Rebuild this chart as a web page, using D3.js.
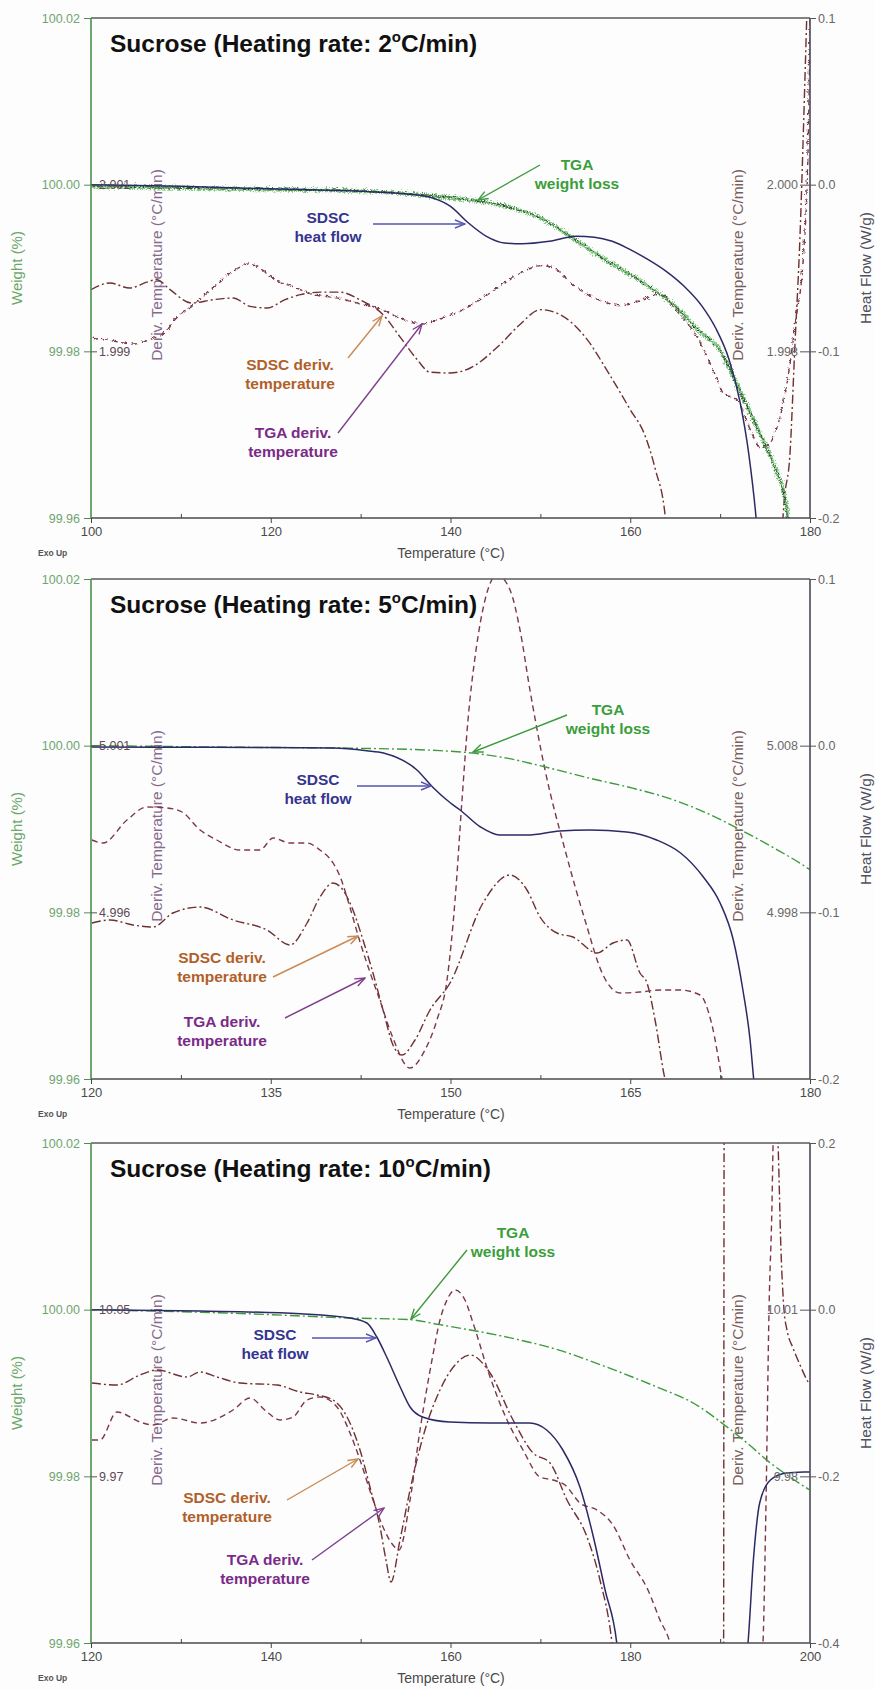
<!DOCTYPE html>
<html>
<head>
<meta charset="utf-8">
<script src="https://cdn.jsdelivr.net/npm/d3@7"></script>
<style>
  body { margin: 0; background: #ffffff; }
  svg { display: block; font-family: "Liberation Sans", Arial, sans-serif; }
</style>
</head>
<body>
<svg id="chart" width="875" height="1690"></svg>
<script>
// ---------- Shared axis values ----------
const weightDomain = [99.96, 100.02];
const weightTicks = [99.96, 99.98, 100.00, 100.02];

// ---------- Heating rate 2 °C/min ----------
const temp2Ticks = [100, 120, 140, 160, 180];
const temp2Minor = [110, 130, 150, 170];
const heatFlow2Ticks = [-0.2, -0.1, 0.0, 0.1];
const tgaDeriv2Ticks = [1.999, 2.001];
const sdscDeriv2Ticks = [1.998, 2.000];
// [temperature °C, heat flow W/g]
const heatFlow2 = [[100,0.000],[110,-0.001],[120,-0.0025],[130,-0.004],[136,-0.006],[138,-0.008],[140,-0.013],[142,-0.023],[144,-0.031],[146,-0.035],[148,-0.0355],[151,-0.034],[154,-0.031],[156,-0.0315],[158,-0.034],[160,-0.039],[162,-0.045],[164,-0.052],[166,-0.061],[168,-0.073],[169.5,-0.086],[171,-0.105],[172.2,-0.130],[173.2,-0.162],[174,-0.200],[174.3,-0.22]];
// [temperature °C, weight %]
const weight2 = [[100,100.0000],[115,99.9997],[130,99.9994],[138,99.9988],[143,99.9982],[147,99.9973],[150,99.9961],[153.4,99.9938],[157,99.9912],[161,99.9886],[164.8,99.9856],[167.5,99.9826],[169.7,99.9805],[172.3,99.9748],[174.5,99.9697],[176,99.9661],[177.2,99.9616],[177.4,99.9600],[177.6,99.958]];
// [temperature °C, deriv. temperature °C/min]
const tgaDeriv2 = [[100.0,1.99917],[102.1,1.99914],[104.7,1.99910],[106.6,1.99916],[108.0,1.99922],[109.3,1.99940],[111.2,1.99956],[113.8,1.99980],[115.8,1.99998],[117.5,2.00006],[118.8,2.00000],[120.5,1.99986],[122.1,1.99980],[124.4,1.99970],[127.4,1.99965],[129.9,1.99958],[132.5,1.99950],[134.4,1.99940],[136.9,1.99934],[138.8,1.99940],[141.1,1.99950],[143.3,1.99964],[145.5,1.99980],[147.7,1.99995],[150.0,2.00004],[151.6,2.00000],[153.3,1.99983],[156.6,1.99962],[158.9,1.99956],[161.1,1.99962],[163.3,1.99970],[164.8,1.99953],[167.4,1.99917],[169.4,1.99872],[170.3,1.99850],[171.7,1.99844],[173.3,1.99806],[174.4,1.99785],[175.2,1.99788],[176.1,1.99806],[177.2,1.99854],[178.3,1.99938],[179.2,2.00022],[179.67,2.00142],[179.9,2.00300],[180,2.00400]];
const sdscDeriv2 = [[100.0,1.99874],[102.1,1.99882],[104.3,1.99876],[106.2,1.99883],[107.3,1.99886],[108.8,1.99874],[111.2,1.99858],[113.6,1.99862],[115.8,1.99864],[117.7,1.99854],[119.6,1.99852],[121.6,1.99862],[123.3,1.99868],[125.5,1.99871],[127.7,1.99871],[129.9,1.99862],[132.5,1.99844],[134.4,1.99817],[136.3,1.99790],[137.7,1.99775],[139.9,1.99774],[142.2,1.99780],[145.5,1.99808],[147.7,1.99832],[150.0,1.99850],[152.2,1.99844],[155.0,1.99817],[157.7,1.99772],[160.0,1.99730],[161.6,1.99700],[162.8,1.99658],[163.9,1.99601],[164.3,1.99550],[176.8,1.99550],[177.0,1.99601],[177.8,1.99682],[178.3,1.99802],[178.9,1.99942],[179.5,2.00150],[179.7,2.00222],[180,2.00300]];

// ---------- Heating rate 5 °C/min ----------
const temp5Ticks = [120, 135, 150, 165, 180];
const temp5Minor = [127.5, 142.5, 157.5, 172.5];
const heatFlow5Ticks = [-0.2, -0.1, 0.0, 0.1];
const tgaDeriv5Ticks = [4.996, 5.001];
const sdscDeriv5Ticks = [4.998, 5.008];
const heatFlow5 = [[120,-0.0008],[130,-0.0010],[140.2,-0.0014],[143,-0.0030],[144.4,-0.0044],[147.2,-0.0146],[148.5,-0.0248],[150.0,-0.0344],[150.8,-0.0386],[152.5,-0.0488],[154.1,-0.0536],[156.4,-0.0536],[159.1,-0.0512],[161.6,-0.0506],[164.7,-0.0518],[167.2,-0.0566],[169.2,-0.0644],[171.1,-0.0788],[172.5,-0.0944],[173.6,-0.1166],[174.4,-0.1466],[175.0,-0.1766],[175.3,-0.2000],[175.5,-0.215]];
const weight5 = [[120,100.0000],[133.3,99.9998],[141.6,99.9997],[149.1,99.9994],[151.9,99.9991],[154.7,99.9985],[158.3,99.9973],[161.6,99.9961],[165.2,99.9949],[168.6,99.9935],[171.4,99.9919],[174.2,99.9899],[176.9,99.9878],[179.8,99.9853],[180,99.9851]];
const tgaDeriv5 = [[120.08,4.99817],[121.0,4.99808],[123.0,4.99877],[124.67,4.99916],[126.34,4.99913],[127.59,4.99901],[129.1,4.99847],[130.5,4.99817],[132.4,4.99787],[134.1,4.99787],[135.2,4.99823],[136.6,4.99808],[138.0,4.99808],[139.1,4.99787],[140.2,4.99748],[140.8,4.99706],[141.6,4.99616],[142.4,4.99517],[143.3,4.99418],[144.1,4.99337],[145.1,4.99232],[146.62,4.99133],[147.87,4.99187],[148.87,4.99277],[149.71,4.99397],[150.38,4.99637],[150.96,4.99937],[151.46,5.00177],[152.13,5.00387],[152.88,5.00537],[153.88,5.00612],[154.97,5.00567],[155.80,5.00447],[156.63,5.00267],[157.89,5.00027],[159.56,4.99787],[161.22,4.99577],[162.73,4.99412],[164.14,4.99358],[165.81,4.99361],[167.48,4.99367],[169.15,4.99367],[170.82,4.99352],[171.82,4.99262],[172.66,4.99100],[173.2,4.99000]];
const sdscDeriv5 = [[120.08,4.99736],[121.59,4.99754],[123.50,4.99724],[125.17,4.99712],[126.84,4.99796],[129.10,4.99832],[131.85,4.99754],[134.69,4.99694],[136.61,4.99604],[138.03,4.99736],[139.11,4.99892],[140.19,4.99976],[141.03,4.99934],[141.86,4.99814],[142.70,4.99634],[143.53,4.99436],[144.37,4.99214],[145.20,4.99004],[145.95,4.98944],[147.04,4.99034],[148.29,4.99214],[149.96,4.99376],[152.71,4.99856],[154.97,5.00024],[156.38,4.99934],[157.47,4.99772],[158.89,4.99676],[160.22,4.99652],[162.23,4.99556],[163.56,4.99616],[164.73,4.99634],[165.81,4.99436],[166.40,4.99376],[167.07,4.99154],[167.90,4.98800],[168.3,4.98700]];

// ---------- Heating rate 10 °C/min ----------
const temp10Ticks = [120, 140, 160, 180, 200];
const temp10Minor = [130, 150, 170, 190];
const heatFlow10Ticks = [-0.4, -0.2, 0.0, 0.2];
const tgaDeriv10Ticks = [9.97, 10.05];
const sdscDeriv10Ticks = [9.98, 10.01];
const heatFlow10 = [[120.1,0.0],[132.1,-0.0016],[143.3,-0.005],[148.8,-0.010],[150.7,-0.016],[151.8,-0.0328],[152.9,-0.0568],[154.4,-0.0928],[155.5,-0.1168],[156.9,-0.1288],[159.9,-0.1348],[164.4,-0.136],[168.8,-0.136],[170.7,-0.1444],[172.5,-0.1684],[174.4,-0.2128],[175.9,-0.2728],[177.2,-0.3364],[178.5,-0.4],[178.8,-0.43],[192.8,-0.43],[193.1,-0.4],[193.7,-0.3004],[194.4,-0.232],[195.6,-0.2044],[197.4,-0.196],[199.7,-0.1948],[200,-0.1947]];
const weight10 = [[120.1,100.0000],[137.7,99.9995],[148.8,99.9990],[155.5,99.9988],[158.8,99.9982],[166.3,99.9967],[171.9,99.9952],[177.4,99.9931],[183.0,99.9907],[187.0,99.9888],[190.8,99.9859],[193.0,99.9840],[195.6,99.9816],[197.8,99.9799],[199.9,99.9784]];
const tgaDeriv10 = [[120.11,9.98744],[121.0,9.98744],[122.89,10.00088],[125.45,9.99608],[126.90,9.99464],[129.12,9.99800],[132.13,9.99560],[135.80,10.00184],[137.69,10.00760],[139.58,10.00088],[141.03,9.99704],[142.48,9.99848],[144.03,10.00664],[145.48,10.00808],[147.37,10.00328],[148.82,9.99080],[149.93,9.97784],[151.38,9.95864],[152.49,9.94568],[153.60,9.93704],[154.27,9.93464],[155.50,9.95864],[156.61,9.99224],[157.94,10.02584],[158.83,10.04504],[159.61,10.05464],[160.50,10.05944],[161.61,10.05464],[162.51,10.04360],[164.40,10.01768],[166.29,9.99704],[168.07,9.98264],[169.96,9.96968],[171.41,9.96824],[172.74,9.96584],[174.41,9.95720],[176.30,9.95384],[178.08,9.94664],[179.97,9.92984],[181.97,9.91544],[183.31,9.90104],[184.43,9.89000],[184.98,9.88000],[194.6,9.88000],[194.77,9.89000],[195.11,9.95864],[195.44,10.04984],[195.78,10.10264],[195.89,10.13000],[196.0,10.15000]];
const sdscDeriv10 = [[120.11,9.99680],[122.89,9.99644],[125.45,9.99824],[127.34,9.99914],[130.68,9.99788],[132.13,9.99878],[134.02,9.99788],[136.58,9.99680],[140.70,9.99644],[143.26,9.99518],[145.15,9.99464],[146.93,9.99374],[148.49,9.99068],[149.93,9.98474],[151.04,9.97808],[152.16,9.97088],[152.82,9.96494],[153.38,9.96098],[154.38,9.96854],[155.50,9.97754],[157.16,9.98834],[158.83,9.99554],[160.50,10.00004],[162.17,10.00184],[164.40,9.99860],[166.96,9.99014],[169.18,9.98420],[171.07,9.98240],[172.96,9.97574],[175.19,9.96908],[176.63,9.96134],[177.97,9.95000],[178.3,9.94500],[190.38,9.94500],[190.45,10.04500],[196.3,10.04500],[196.44,10.04000],[196.77,10.02074],[197.11,10.00994],[197.44,10.00634],[198.11,10.00310],[198.89,10.00004],[199.89,9.99680],[200,9.99660]];

// ---------- Layout and styling ----------
const LEFT = 91, RIGHT = 810;
const COLORS = {
  heatFlow: "#2b2a66", weight: "#3d9a3d", tgaDeriv: "#7d3848", sdscDeriv: "#6e3030",
  weightText: "#3a9e3a", heatText: "#35358f", heatArrow: "#5555b0",
  sdscText: "#b0602a", sdscArrow: "#c98a55", tgaText: "#7a2a88", tgaArrow: "#80408e"
};

const panels = [
  { id: "r2", top: 18, bottom: 518, rate: "2",
    tempDomain: [100, 180], tempTicks: temp2Ticks, tempMinor: temp2Minor,
    hfDomain: [-0.2, 0.1], hfTicks: heatFlow2Ticks,
    tgaDerivDomain: [1.997, 2.003], tgaDerivTicks: tgaDeriv2Ticks, tgaFmt: ".3f",
    sdscDerivDomain: [1.996, 2.002], sdscDerivTicks: sdscDeriv2Ticks, sdscFmt: ".3f",
    heatFlow: heatFlow2, weight: weight2, tgaDeriv: tgaDeriv2, sdscDeriv: sdscDeriv2, noisy: true,
    notes: {
      weight: { x: 577, y: 152, arrow: [540, 147, 478, 182] },
      heat:   { x: 328, y: 205, arrow: [373, 206, 465, 206] },
      sdsc:   { x: 290, y: 352, arrow: [348, 340, 382, 298] },
      tga:    { x: 293, y: 420, arrow: [338, 415, 422, 306] }
    } },
  { id: "r5", top: 579, bottom: 1079, rate: "5",
    tempDomain: [120, 180], tempTicks: temp5Ticks, tempMinor: temp5Minor,
    hfDomain: [-0.2, 0.1], hfTicks: heatFlow5Ticks,
    tgaDerivDomain: [4.991, 5.006], tgaDerivTicks: tgaDeriv5Ticks, tgaFmt: ".3f",
    sdscDerivDomain: [4.988, 5.018], sdscDerivTicks: sdscDeriv5Ticks, sdscFmt: ".3f",
    heatFlow: heatFlow5, weight: weight5, tgaDeriv: tgaDeriv5, sdscDeriv: sdscDeriv5, noisy: false,
    notes: {
      weight: { x: 608, y: 136, arrow: [567, 136, 473, 173] },
      heat:   { x: 318, y: 206, arrow: [357, 207, 431, 207] },
      sdsc:   { x: 222, y: 384, arrow: [273, 398, 358, 357] },
      tga:    { x: 222, y: 448, arrow: [285, 439, 365, 399] }
    } },
  { id: "r10", top: 1143, bottom: 1643, rate: "10",
    tempDomain: [120, 200], tempTicks: temp10Ticks, tempMinor: temp10Minor,
    hfDomain: [-0.4, 0.2], hfTicks: heatFlow10Ticks,
    tgaDerivDomain: [9.89, 10.13], tgaDerivTicks: tgaDeriv10Ticks, tgaFmt: ".2f",
    sdscDerivDomain: [9.95, 10.04], sdscDerivTicks: sdscDeriv10Ticks, sdscFmt: ".2f",
    heatFlow: heatFlow10, weight: weight10, tgaDeriv: tgaDeriv10, sdscDeriv: sdscDeriv10, noisy: false,
    notes: {
      weight: { x: 513, y: 95, arrow: [467, 107, 411, 176] },
      heat:   { x: 275, y: 197, arrow: [312, 195, 376, 195] },
      sdsc:   { x: 227, y: 360, arrow: [287, 357, 358, 316] },
      tga:    { x: 265, y: 422, arrow: [312, 417, 384, 365] }
    } }
];

const svg = d3.select("#chart");
svg.append("rect").attr("width", 875).attr("height", 1690).attr("fill", "#fdfdfd");
const defs = svg.append("defs");

// open chevron arrowheads, one per annotation colour
function arrowMarker(id, color) {
  defs.append("marker").attr("id", id)
    .attr("viewBox", "0 0 12 10").attr("refX", 11).attr("refY", 5)
    .attr("markerWidth", 12).attr("markerHeight", 10)
    .attr("markerUnits", "userSpaceOnUse").attr("orient", "auto")
    .append("path").attr("d", "M1,1 L11,5 L1,9")
    .attr("fill", "none").attr("stroke", color).attr("stroke-width", 1.4);
}
arrowMarker("arW", COLORS.weight);
arrowMarker("arH", COLORS.heatArrow);
arrowMarker("arS", COLORS.sdscArrow);
arrowMarker("arT", COLORS.tgaArrow);

// ragged trace texture for the noisy slow-rate TGA signal
function jitter(id, seed, scale) {
  const f = defs.append("filter").attr("id", id)
    .attr("filterUnits", "userSpaceOnUse")
    .attr("x", 60).attr("y", 0).attr("width", 780).attr("height", 560);
  f.append("feTurbulence").attr("type", "turbulence")
    .attr("baseFrequency", "0.9 0.45").attr("numOctaves", 2).attr("seed", seed).attr("result", "n");
  f.append("feDisplacementMap").attr("in", "SourceGraphic").attr("in2", "n")
    .attr("scale", scale).attr("xChannelSelector", "R").attr("yChannelSelector", "G");
}
jitter("jitterA", 4, 7);
jitter("jitterB", 11, 5);
jitter("jitterC", 2, 3);

const minus = f => d => f(d).replace("\u2212", "-");

function styleAxis(sel, lineColor, textColor, size) {
  sel.selectAll("line").attr("stroke", lineColor);
  sel.selectAll("text").attr("fill", textColor).attr("font-size", size)
    .attr("font-family", "\"Liberation Sans\", Arial, sans-serif");
  sel.select(".domain").remove();
}

function drawPanel(p) {
  const g = svg.append("g");
  const x = d3.scaleLinear().domain(p.tempDomain).range([LEFT, RIGHT]);
  const yW = d3.scaleLinear().domain(weightDomain).range([p.bottom, p.top]);
  const yHF = d3.scaleLinear().domain(p.hfDomain).range([p.bottom, p.top]);
  const yTD = d3.scaleLinear().domain(p.tgaDerivDomain).range([p.bottom, p.top]);
  const ySD = d3.scaleLinear().domain(p.sdscDerivDomain).range([p.bottom, p.top]);

  const clipId = "clip-" + p.id;
  defs.append("clipPath").attr("id", clipId).append("rect")
    .attr("x", LEFT).attr("y", p.top).attr("width", RIGHT - LEFT).attr("height", p.bottom - p.top);

  // inner derivative-temperature axis titles (drawn under the traces)
  const midY = (p.top + p.bottom) / 2 - 3;
  g.append("text").attr("transform", `translate(162,${midY}) rotate(-90)`)
    .attr("text-anchor", "middle").attr("font-size", 15.5).attr("fill", "#876a8c")
    .text("Deriv. Temperature (°C/min)");
  g.append("text").attr("transform", `translate(743,${midY}) rotate(-90)`)
    .attr("text-anchor", "middle").attr("font-size", 15.5).attr("fill", "#7a605c")
    .text("Deriv. Temperature (°C/min)");

  // traces
  const plot = g.append("g").attr("clip-path", `url(#${clipId})`);
  const path = (data, ys) => d3.line().x(d => x(d[0])).y(d => ys(d[1])).curve(d3.curveMonotoneX)(data);

  plot.append("path").attr("d", path(p.sdscDeriv, ySD))
    .attr("fill", "none").attr("stroke", COLORS.sdscDeriv).attr("stroke-width", 1.4)
    .attr("stroke-dasharray", "9,3,2,3");
  const td = plot.append("path").attr("d", path(p.tgaDeriv, yTD))
    .attr("fill", "none").attr("stroke", COLORS.tgaDeriv).attr("stroke-width", 1.4)
    .attr("stroke-dasharray", "6,4");
  if (p.noisy) td.attr("filter", "url(#jitterC)");

  if (p.noisy) {
    plot.append("path").attr("d", path(p.weight, yW))
      .attr("fill", "none").attr("stroke", "#5db85d").attr("stroke-width", 3.4)
      .attr("stroke-opacity", 0.75).attr("filter", "url(#jitterA)");
    plot.append("path").attr("d", path(p.weight, yW))
      .attr("fill", "none").attr("stroke", "#2c4a2c").attr("stroke-width", 1)
      .attr("filter", "url(#jitterB)");
  } else {
    plot.append("path").attr("d", path(p.weight, yW))
      .attr("fill", "none").attr("stroke", COLORS.weight).attr("stroke-width", 1.4)
      .attr("stroke-dasharray", "10,3,2,3");
  }
  plot.append("path").attr("d", path(p.heatFlow, yHF))
    .attr("fill", "none").attr("stroke", COLORS.heatFlow).attr("stroke-width", 1.5);

  // frame
  g.append("line").attr("x1", LEFT).attr("x2", RIGHT).attr("y1", p.top).attr("y2", p.top)
    .attr("stroke", "#5a5a5a").attr("stroke-width", 1.6);
  g.append("line").attr("x1", LEFT).attr("x2", RIGHT).attr("y1", p.bottom).attr("y2", p.bottom)
    .attr("stroke", "#4a4a4a").attr("stroke-width", 1.6);
  g.append("line").attr("x1", LEFT).attr("x2", LEFT).attr("y1", p.top).attr("y2", p.bottom)
    .attr("stroke", "#4c8f4c").attr("stroke-width", 1.6);
  g.append("line").attr("x1", RIGHT).attr("x2", RIGHT).attr("y1", p.top).attr("y2", p.bottom)
    .attr("stroke", "#4a4a5a").attr("stroke-width", 1.6);

  // temperature axis
  const xa = g.append("g").attr("transform", `translate(0,${p.bottom})`)
    .call(d3.axisBottom(x).tickValues(p.tempTicks).tickSize(5).tickPadding(4).tickFormat(d3.format("d")));
  styleAxis(xa, "#444", "#4a4a4a", 13);
  const xm = g.append("g").attr("transform", `translate(0,${p.bottom})`)
    .call(d3.axisBottom(x).tickValues(p.tempMinor).tickSize(-4).tickFormat(""));
  styleAxis(xm, "#444", "#444", 10);

  // weight axis (outside left)
  const wa = g.append("g").attr("transform", `translate(${LEFT},0)`)
    .call(d3.axisLeft(yW).tickValues(weightTicks).tickSize(7).tickPadding(4).tickFormat(d3.format(".2f")));
  styleAxis(wa, "#4c8f4c", "#6fa56f", 12.5);

  // TGA deriv. temperature axis (inside left)
  const tda = g.append("g").attr("transform", `translate(${LEFT},0)`)
    .call(d3.axisRight(yTD).tickValues(p.tgaDerivTicks).tickSize(6).tickPadding(2).tickFormat(d3.format(p.tgaFmt)));
  styleAxis(tda, "#555", "#5e4a58", 12.5);

  // heat flow axis (outside right)
  const ha = g.append("g").attr("transform", `translate(${RIGHT},0)`)
    .call(d3.axisRight(yHF).tickValues(p.hfTicks).tickSize(6).tickPadding(2).tickFormat(minus(d3.format(".1f"))));
  styleAxis(ha, "#555", "#666", 12.5);

  // SDSC deriv. temperature axis (inside right)
  const sda = g.append("g").attr("transform", `translate(${RIGHT},0)`)
    .call(d3.axisLeft(ySD).tickValues(p.sdscDerivTicks).tickSize(10).tickPadding(2).tickFormat(d3.format(p.sdscFmt)));
  styleAxis(sda, "#555", "#6a6a6a", 12.5);

  // axis titles
  g.append("text").attr("transform", `translate(22,${midY + 3}) rotate(-90)`)
    .attr("text-anchor", "middle").attr("font-size", 15).attr("fill", "#6aa76a").text("Weight (%)");
  g.append("text").attr("transform", `translate(871,${midY + 3}) rotate(-90)`)
    .attr("text-anchor", "middle").attr("font-size", 15.5).attr("fill", "#50505f").text("Heat Flow (W/g)");
  g.append("text").attr("x", 451).attr("y", p.bottom + 40).attr("text-anchor", "middle")
    .attr("font-size", 14).attr("fill", "#4a4a4a").text("Temperature (°C)");
  g.append("text").attr("x", 38).attr("y", p.bottom + 38)
    .attr("font-size", 8.5).attr("font-weight", "bold").attr("fill", "#555").text("Exo Up");

  // panel title
  const t = g.append("text").attr("x", 110).attr("y", p.top + 34)
    .attr("font-size", 24.5).attr("font-weight", "bold").attr("fill", "#111");
  t.append("tspan").text(`Sucrose (Heating rate: ${p.rate}`);
  t.append("tspan").attr("font-size", 15).attr("dy", -10).text("o");
  t.append("tspan").attr("dy", 10).text("C/min)");

  // callouts
  function note(n, lines, color, arrowColor, marker) {
    g.append("line")
      .attr("x1", n.arrow[0]).attr("y1", p.top + n.arrow[1])
      .attr("x2", n.arrow[2]).attr("y2", p.top + n.arrow[3])
      .attr("stroke", arrowColor).attr("stroke-width", 1.4)
      .attr("marker-end", `url(#${marker})`);
    lines.forEach((s, i) => {
      g.append("text").attr("x", n.x).attr("y", p.top + n.y + i * 19)
        .attr("text-anchor", "middle").attr("font-size", 15.5).attr("font-weight", "bold")
        .attr("fill", color).text(s);
    });
  }
  note(p.notes.weight, ["TGA", "weight loss"], COLORS.weightText, COLORS.weight, "arW");
  note(p.notes.heat, ["SDSC", "heat flow"], COLORS.heatText, COLORS.heatArrow, "arH");
  note(p.notes.sdsc, ["SDSC deriv.", "temperature"], COLORS.sdscText, COLORS.sdscArrow, "arS");
  note(p.notes.tga, ["TGA deriv.", "temperature"], COLORS.tgaText, COLORS.tgaArrow, "arT");
}

panels.forEach(drawPanel);
</script>
</body>
</html>
